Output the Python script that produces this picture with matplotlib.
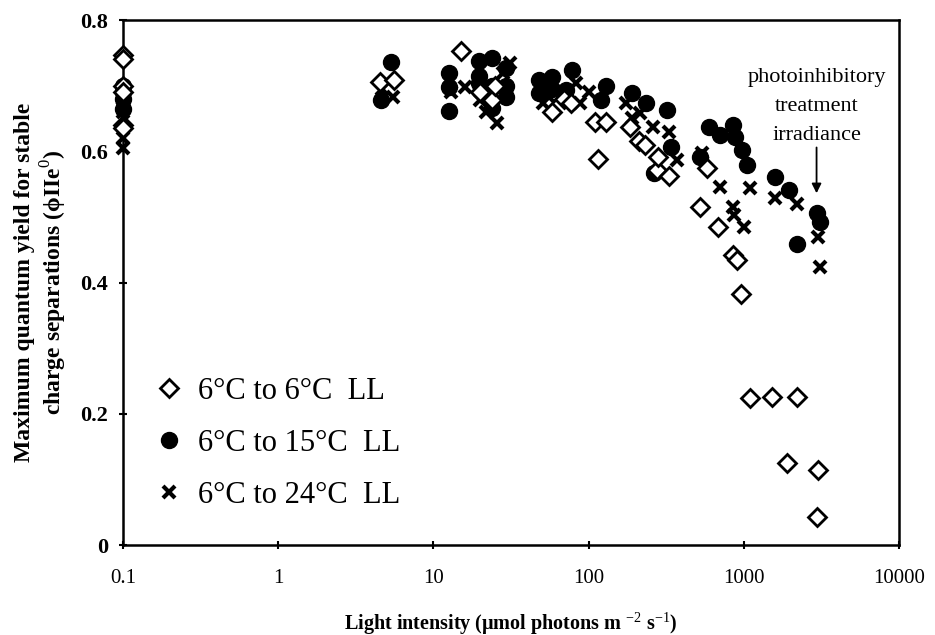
import matplotlib
matplotlib.use("Agg")
import matplotlib.pyplot as plt

plt.rcParams['font.family'] = ['Liberation Serif', 'DejaVu Serif']
plt.rcParams['mathtext.fontset'] = 'custom'
plt.rcParams['mathtext.rm'] = 'Liberation Serif'
plt.rcParams['mathtext.bf'] = 'Liberation Serif:bold'

# 6C to 6C LL (open diamonds)
x66 = [0.1, 0.1, 0.1, 0.1, 0.1, 0.1, 4.5, 5.6, 15, 20, 24, 25, 58, 70, 77,
       110, 115, 130, 186, 210, 230, 275, 280, 330, 520, 580, 680, 850, 900,
       960, 1100, 1520, 2200, 1900, 3000, 2950]
y66 = [0.747, 0.74, 0.70, 0.69, 0.64, 0.635, 0.706, 0.709, 0.753, 0.69, 0.678,
       0.70, 0.660, 0.68, 0.674, 0.645, 0.588, 0.645, 0.637, 0.615, 0.61,
       0.571, 0.591, 0.563, 0.515, 0.575, 0.485, 0.442, 0.435, 0.383, 0.224,
       0.226, 0.226, 0.125, 0.114, 0.043]

# 6C to 15C LL (filled circles)
x615 = [0.1, 0.1, 0.1, 0.1, 4.6, 5.3, 12.7, 12.7, 12.7, 19.8, 19.8, 19.8,
        24, 24, 24, 29.5, 29.5, 29.5, 48, 48, 58, 58, 78, 72, 120, 130, 190,
        235, 265, 320, 340, 520, 600, 700, 850, 880, 980, 1050, 1600, 1950,
        2200, 2950, 3100]
y615 = [0.70, 0.68, 0.665, 0.69, 0.678, 0.736, 0.72, 0.698, 0.662, 0.738,
        0.715, 0.704, 0.742, 0.70, 0.666, 0.727, 0.70, 0.683, 0.709, 0.689,
        0.713, 0.695, 0.724, 0.693, 0.678, 0.70, 0.689, 0.674, 0.567, 0.663,
        0.607, 0.591, 0.637, 0.625, 0.64, 0.622, 0.602, 0.579, 0.561, 0.541,
        0.458, 0.506, 0.492]

# 6C to 24C LL (crosses)
x624 = [0.1, 0.1, 0.1, 0.1, 4.7, 5.5, 13, 16, 20, 22, 25.6, 28, 31, 51, 56,
        83, 88, 100, 175, 190, 215, 260, 330, 370, 540, 700, 850, 870, 1000,
        1100, 1600, 2200, 3000, 3100]
y624 = [0.605, 0.62, 0.66, 0.68, 0.695, 0.683, 0.69, 0.698, 0.678, 0.66,
        0.643, 0.72, 0.735, 0.673, 0.683, 0.704, 0.673, 0.69, 0.673, 0.65,
        0.658, 0.637, 0.63, 0.587, 0.597, 0.546, 0.515, 0.503, 0.485, 0.544,
        0.529, 0.52, 0.469, 0.424]

labels = ['6°C to 6°C  LL', '6°C to 15°C  LL', '6°C to 24°C  LL']

fig = plt.figure(figsize=(9.35, 6.35), dpi=100)
ax = fig.add_axes([0.1316, 0.1417, 0.8297, 0.8268])

ax.plot(x615, y615, 'o', color='black', ms=11.5, ls='none', label=labels[1],
        zorder=2, clip_on=False)
ax.plot(x624, y624, 'x', color='black', ms=9, mew=3, ls='none', label=labels[2],
        zorder=3, clip_on=False)
ax.plot(x66, y66, 'D', mfc='white', mec='black', ms=9, mew=2, ls='none',
        label=labels[0], zorder=4, clip_on=False)

ax.set_xscale('log')
ax.set_xlim(0.1, 10000)
ax.set_ylim(0, 0.8)
ax.set_xticks([0.1, 1, 10, 100, 1000, 10000])
ax.set_xticklabels(['0.1', '1', '10', '100', '1000', '10000'])
ax.minorticks_off()
ax.set_yticks([0, 0.2, 0.4, 0.6, 0.8])
ax.set_yticklabels(['0', '0.2', '0.4', '0.6', '0.8'], fontweight='bold')
ax.tick_params(direction='inout', length=6, width=1.5, labelsize=16)
ax.tick_params(axis='x', pad=14, labelsize=15)
ax.tick_params(axis='y', pad=8)

for s in ax.spines.values():
    s.set_linewidth(1.8)

ax.set_xlabel('Light intensity (μmol photons m $^{-2}$ s$^{-1}$)', fontsize=14.5,
              fontweight='bold', labelpad=16)
ax.set_ylabel('Maximum quantum yield for stable\ncharge separations (ϕIIe$^{0}$)',
              fontsize=17, fontweight='bold', labelpad=8, linespacing=1.15)

h, l = ax.get_legend_handles_labels()
order = [2, 0, 1]
ax.legend([h[i] for i in order], [l[i] for i in order], loc='lower left',
          bbox_to_anchor=(0.0, 0.015), frameon=False, fontsize=22,
          handletextpad=0.35, labelspacing=0.75, markerscale=1.0,
          handlelength=1.2)

ax.annotate('photoinhibitory\ntreatment\nirradiance', xy=(2950, 0.536),
            xytext=(2950, 0.61), ha='center', va='bottom', fontsize=16,
            linespacing=1.72,
            arrowprops=dict(arrowstyle='-|>', color='black', lw=1.3,
                            mutation_scale=14, shrinkA=0, shrinkB=0))

fig.savefig('out.png', dpi=100)
